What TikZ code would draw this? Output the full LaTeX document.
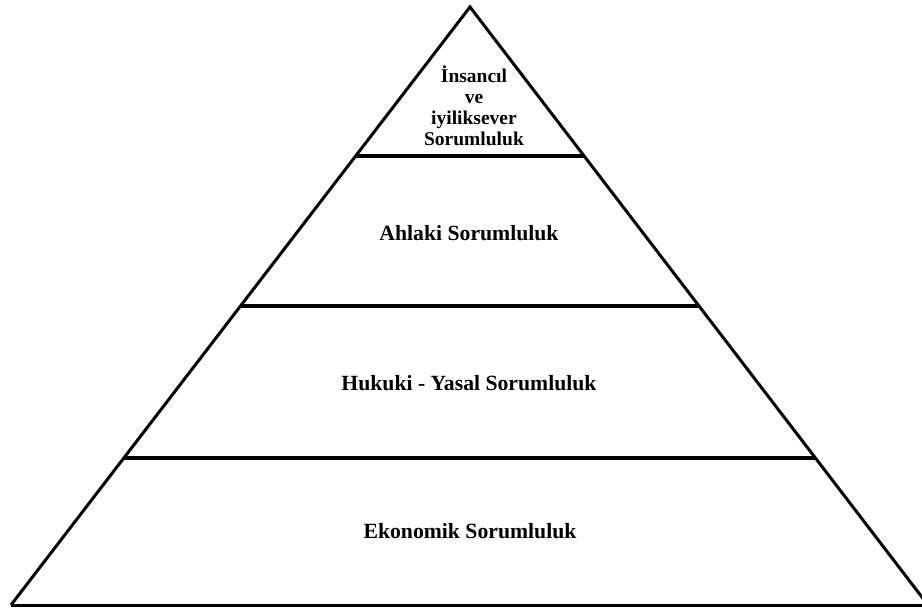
\documentclass[tikz,border=0pt]{standalone}
\usepackage{fontspec}
\usetikzlibrary{calc}
\setmainfont{Liberation Serif}
\begin{document}
\begin{tikzpicture}[x=1pt,y=-1pt,
  edge/.style={line width=3pt,line join=miter},
  tier/.style={line width=4pt},
  lbl/.style={font=\fontsize{21.7}{23}\selectfont\bfseries,align=center,inner sep=0pt},
  toplbl/.style={font=\fontsize{19.5}{21}\selectfont\bfseries,align=center,inner sep=0pt}]
\useasboundingbox (0,0) rectangle (922,610);
\coordinate (apex) at (470,7);
\coordinate (bl) at (11,605);
\coordinate (br) at (928,605);
\draw[edge] (bl) -- (apex) -- (br);
\draw[edge] (bl) -- (br);
\draw[tier] ($(apex)!0.2492!(bl)$) coordinate (l1) -- ($(apex)!0.2492!(br)$) coordinate (r1);
\draw[tier] ($(apex)!0.5!(bl)$) coordinate (l2) -- ($(apex)!0.5!(br)$) coordinate (r2);
\draw[tier] ($(apex)!0.7542!(bl)$) coordinate (l3) -- ($(apex)!0.7542!(br)$) coordinate (r3);
\node[toplbl] (t1) at (474,106) {İnsancıl\\ve\\iyiliksever\\Sorumluluk};
\node[lbl] (t2) at (469,233) {Ahlaki Sorumluluk};
\node[lbl] (t3) at (469,383) {Hukuki - Yasal Sorumluluk};
\node[lbl] (t4) at (470,531) {Ekonomik Sorumluluk};
\end{tikzpicture}
\end{document}
